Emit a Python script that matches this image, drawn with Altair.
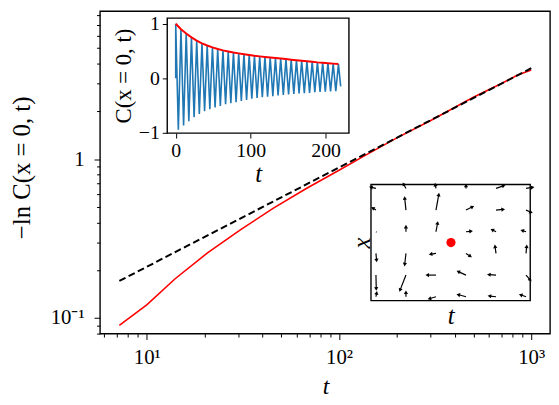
import math
import altair as alt
import pandas as pd

FONT = "Liberation Serif"

# ---------------- main panel data ----------------
red_t = [7.2, 10, 14, 20.7, 30.8, 45.6, 67.6, 100, 134, 170, 200, 300, 500, 700, 850, 1000]
red_y = [0.090, 0.121, 0.176, 0.257, 0.360, 0.491, 0.653, 0.850, 1.04, 1.22, 1.36, 1.75, 2.45, 2.99, 3.38, 3.63]
dash_t = [7.2, 1000]
dash_y = [0.171, 3.73]
x_ticks = [6, 7, 8, 9, 10, 20, 30, 40, 50, 60, 70, 80, 90, 100,
           200, 300, 400, 500, 600, 700, 800, 900, 1000]
y_ticks = [0.08, 0.09, 0.1, 0.2, 0.3, 0.4, 0.5, 0.6, 0.7, 0.8, 0.9,
           1, 2, 3, 4, 5, 6, 7, 8]

# ---------------- inset 1: C(x=0,t) ----------------
peak_t = [0, 7, 14, 21, 28, 35, 42, 49, 56, 63, 70, 77, 84, 91, 98, 105,
          112, 119, 126, 133, 140, 147, 154, 161, 168, 175, 182, 189, 196, 203, 210, 217]
peak_c = [1.0, 0.90, 0.82, 0.75, 0.69, 0.64, 0.60, 0.565, 0.535, 0.51, 0.49, 0.47,
          0.455, 0.44, 0.425, 0.41, 0.40, 0.39, 0.38, 0.37, 0.36, 0.35, 0.34, 0.33,
          0.32, 0.31, 0.30, 0.29, 0.283, 0.275, 0.267, 0.26]
trough_t = [3.5, 10.5, 17.5, 24.5, 31.5, 38.5, 45.5, 52.5, 59.5, 66.5, 73.5, 80.5,
            87.5, 94.5, 101.5, 108.5, 115.5, 122.5, 129.5, 136.5, 143.5, 150.5, 157.5,
            164.5, 171.5, 178.5, 185.5, 192.5, 199.5, 206.5, 213.5]
trough_c = [-0.95, -0.87, -0.79, -0.72, -0.66, -0.61, -0.57, -0.54, -0.51, -0.48, -0.46,
            -0.44, -0.42, -0.40, -0.38, -0.365, -0.35, -0.34, -0.33, -0.32, -0.31, -0.30,
            -0.29, -0.28, -0.275, -0.27, -0.26, -0.255, -0.25, -0.245, -0.24]
osc_start = [0, 0.0]
osc_end = [220, -0.15]
in1_xticks = [0, 100, 200]
in1_yticks = [-1, 0, 1]

# ---------------- inset 2: quiver ----------------
q_col = [0, 1, 2, 3, 4, 5] * 6
q_row = [5] * 6 + [4] * 6 + [3] * 6 + [2] * 6 + [1] * 6 + [0] * 6
q_u = [-0.15, -0.07, -0.02, 0.0, 0.24, 0.20,
       -0.09, -0.04, 0.09, 0.20, 0.22, 0.15,
       0.02, 0.0, 0.05, 0.15, -0.11, -0.11,
       0.02, -0.04, -0.16, 0.13, -0.03, 0.02,
       0.01, -0.19, -0.27, -0.24, -0.22, 0.13,
       0.02, 0.0, -0.20, -0.24, -0.20, -0.16]
q_v = [0.05, 0.18, 0.15, 0.11, 0.12, 0.05,
       0.08, 0.53, 0.69, 0.14, 0.03, -0.09,
       -0.02, 0.21, 0.38, 0.02, 0.08, 0.05,
       -0.30, -0.49, -0.03, -0.12, 0.30, 0.30,
       -0.61, -0.67, 0.0, 0.15, 0.02, -0.21,
       0.15, 0.18, -0.08, 0.09, 0.03, 0.08]
dot_xy = [2.5, 2.5]

# ---------------- layout ----------------
W, H = 455, 326
X_DOM = [5.71, 1252]
Y_DOM = [0.0798, 8.53]
IN1_XDOM = [-11.3, 231]
IN1_YDOM = [-1.01, 1.104]
IN1_XR = [68, 251.7]
IN1_YR = [123.3, 7]
IN2_XDOM = [-0.165, 5.14]
IN2_YDOM = [-0.18, 5.18]
IN2_XR = [274, 435]
IN2_YR = [292.7, 175.3]

axis_common = dict(labelFont=FONT, titleFont=FONT, labelColor="black", titleColor="black",
                   tickColor="black", domainColor="black", titleFontWeight="normal",
                   labelFlush=False, labelOverlap=False, labelBound=False, grid=False)

# ---------------- main panel ----------------
main_df = pd.DataFrame({"t": red_t, "y": red_y})
dash_df = pd.DataFrame({"t": dash_t, "y": dash_y})

xs = alt.Scale(type="log", domain=X_DOM, nice=False, zero=False)
ys = alt.Scale(type="log", domain=Y_DOM, nice=False, zero=False)
xa = alt.Axis(values=x_ticks, orient="bottom",
              labelExpr="datum.value == 10 ? '10¹' : datum.value == 100 ? '10²' : datum.value == 1000 ? '10³' : ''",
              tickSize={"condition": {"test": "datum.value == 10 || datum.value == 100 || datum.value == 1000", "value": 6}, "value": 3.5},
              tickWidth=1, labelFontSize=21, labelPadding=7, title="t", titleFontSize=24,
              titleFontStyle="italic", titleX=228, titleY=54, titleBaseline="middle",
              domain=False, **axis_common)
ya = alt.Axis(values=y_ticks, orient="left",
              labelExpr="datum.value == 0.1 ? '10⁻¹' : datum.value == 1 ? '1' : ''",
              tickSize={"condition": {"test": "datum.value == 0.1 || datum.value == 1", "value": 6}, "value": 3.5},
              tickWidth=1, labelFontSize=21, labelPadding=10, title="−ln C(x = 0, t)", titleFontSize=25,
              titleX=-79, titleY=158, titleBaseline="middle", titleAngle=270,
              domain=False, **axis_common)

red_line = alt.Chart(main_df).mark_line(color="#ff0000", strokeWidth=1.6, clip=True).encode(
    x=alt.X("t:Q", scale=xs, axis=xa), y=alt.Y("y:Q", scale=ys, axis=ya))
dash_line = alt.Chart(dash_df).mark_line(color="black", strokeWidth=2, strokeDash=[7, 3.5], clip=True).encode(
    x=alt.X("t:Q", scale=xs, axis=xa), y=alt.Y("y:Q", scale=ys, axis=ya))
main = alt.layer(red_line, dash_line)

# ---------------- inset 1 ----------------
rows = [{"t": osc_start[0], "c": osc_start[1]}]
for i in range(len(peak_t)):
    rows.append({"t": peak_t[i], "c": peak_c[i]})
    if i < len(trough_t):
        rows.append({"t": trough_t[i], "c": trough_c[i]})
rows.append({"t": osc_end[0], "c": osc_end[1]})
osc_df = pd.DataFrame(rows)
osc_df["o"] = range(len(osc_df))
env_df = pd.DataFrame({"t": peak_t, "c": peak_c})
frame1_df = pd.DataFrame({"x0": [IN1_XDOM[0]], "x1": [IN1_XDOM[1]], "y0": [IN1_YDOM[0]], "y1": [IN1_YDOM[1]]})

x1s = alt.Scale(domain=IN1_XDOM, range=IN1_XR, nice=False, zero=False)
y1s = alt.Scale(domain=IN1_YDOM, range=IN1_YR, nice=False, zero=False)
x1a = alt.Axis(values=in1_xticks, orient="bottom", offset=-(H - IN1_YR[0]),
               tickSize=5, tickWidth=1, labelFontSize=20, labelPadding=3, domain=False,
               labelExpr="datum.value == 0 ? '0' : datum.value == 100 ? '100' : '200'",
               title="t", titleFontSize=25, titleFontStyle="italic", titlePadding=1,
               **axis_common)
y1a = alt.Axis(values=in1_yticks, orient="left", offset=-IN1_XR[0],
               tickSize=5, tickWidth=1, labelFontSize=20, labelPadding=3, domain=False,
               labelExpr="datum.value > 0.5 ? '1' : datum.value < -0.5 ? '−1' : '0'",
               title="C(x = 0, t)", titleFontSize=23, titlePadding=3,
               **axis_common)

frame1 = alt.Chart(frame1_df).mark_rect(fill="white", stroke="black", strokeWidth=1.4).encode(
    x=alt.X("x0:Q", scale=x1s, axis=x1a), x2="x1:Q",
    y=alt.Y("y0:Q", scale=y1s, axis=y1a), y2="y1:Q")
osc = alt.Chart(osc_df).mark_line(color="#1f77b4", strokeWidth=1.6).encode(
    x=alt.X("t:Q", scale=x1s, axis=x1a), y=alt.Y("c:Q", scale=y1s, axis=y1a), order="o:Q")
env = alt.Chart(env_df).mark_line(color="#ff0000", strokeWidth=2).encode(
    x=alt.X("t:Q", scale=x1s, axis=x1a), y=alt.Y("c:Q", scale=y1s, axis=y1a))
inset1 = alt.layer(frame1, osc, env)

# ---------------- inset 2 ----------------
pxu = (IN2_XR[1] - IN2_XR[0]) / (IN2_XDOM[1] - IN2_XDOM[0])
pyu = (IN2_YR[0] - IN2_YR[1]) / (IN2_YDOM[1] - IN2_YDOM[0])
q_df = pd.DataFrame({"x": q_col, "y": q_row, "u": q_u, "v": q_v})
q_df["xe"] = q_df["x"] + q_df["u"]
q_df["ye"] = q_df["y"] + q_df["v"]
q_df["ang"] = [(math.degrees(math.atan2(u * pxu, v * pyu)) + 360) % 360 for u, v in zip(q_u, q_v)]
q_df["len"] = [math.hypot(u * pxu, v * pyu) for u, v in zip(q_u, q_v)]
q_vis = q_df[q_df["len"] > 1.5]
dot_df = pd.DataFrame({"x": [dot_xy[0]], "y": [dot_xy[1]]})
frame2_df = pd.DataFrame({"x0": [IN2_XDOM[0]], "x1": [IN2_XDOM[1]], "y0": [IN2_YDOM[0]], "y1": [IN2_YDOM[1]]})

x2s = alt.Scale(domain=IN2_XDOM, range=IN2_XR, nice=False, zero=False)
y2s = alt.Scale(domain=IN2_YDOM, range=IN2_YR, nice=False, zero=False)
x2a = alt.Axis(orient="bottom", offset=-(H - IN2_YR[0]), labels=False, ticks=False, domain=False,
               title="t", titleFontSize=25, titleFontStyle="italic", titlePadding=3, **axis_common)
y2a = alt.Axis(orient="left", offset=-IN2_XR[0], labels=False, ticks=False, domain=False,
               title="x", titleFontSize=25, titleFontStyle="italic",
               titleX=-10, titleY=234, titleBaseline="middle", titleAngle=270, **axis_common)

frame2 = alt.Chart(frame2_df).mark_rect(fill="white", stroke="black", strokeWidth=1.4).encode(
    x=alt.X("x0:Q", scale=x2s, axis=x2a), x2="x1:Q",
    y=alt.Y("y0:Q", scale=y2s, axis=y2a), y2="y1:Q")
shafts = alt.Chart(q_df).mark_rule(color="black", strokeWidth=1.2).encode(
    x=alt.X("x:Q", scale=x2s, axis=x2a), x2="xe:Q",
    y=alt.Y("y:Q", scale=y2s, axis=y2a), y2="ye:Q")
heads = alt.Chart(q_vis).mark_point(shape="triangle", filled=True, color="black", size=18, opacity=1).encode(
    x=alt.X("xe:Q", scale=x2s, axis=x2a), y=alt.Y("ye:Q", scale=y2s, axis=y2a),
    angle=alt.Angle("ang:Q", scale=None))
dot = alt.Chart(dot_df).mark_point(shape="circle", filled=True, color="#ff0000", size=85, opacity=1).encode(
    x=alt.X("x:Q", scale=x2s, axis=x2a), y=alt.Y("y:Q", scale=y2s, axis=y2a))
inset2 = alt.layer(frame2, shafts, heads, dot)

chart = alt.layer(main, inset1, inset2).resolve_scale(x="independent", y="independent").properties(
    width=W, height=H,
    background="white",
    autosize=alt.AutoSizeParams(type="none"),
    padding={"left": 93, "top": 1, "right": 1, "bottom": 68},
).configure_view(stroke="black", strokeWidth=1.4)

chart.save("out.html", embed_options={"renderer": "svg", "actions": False})
